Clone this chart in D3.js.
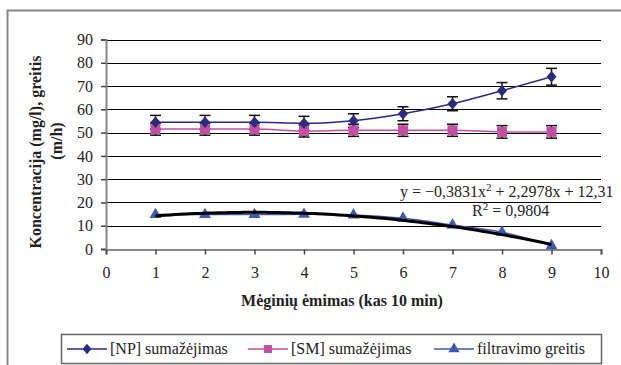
<!DOCTYPE html>
<html>
<head>
<meta charset="utf-8">
<script src="https://cdn.jsdelivr.net/npm/d3@7"></script>
<style>
  body { margin: 0; background: #fff; }
</style>
</head>
<body>
<div id="chart"></div>
<script>
// Mėginių numeriai
var samples = [1, 2, 3, 4, 5, 6, 7, 8, 9];
// [NP] sumažėjimas
var npValues = [54.4, 54.4, 54.4, 54.0, 55.1, 58.1, 62.4, 68.0, 74.0];
var npErrors = [3, 3, 3, 3, 3, 3, 3, 3.5, 3.6];
// [SM] sumažėjimas
var smValues = [51.5, 51.5, 51.5, 50.7, 51.0, 51.0, 51.0, 50.3, 50.3];
var smErrors = [2.6, 2.6, 2.6, 2.6, 2.6, 2.6, 2.6, 2.7, 2.7];
// filtravimo greitis
var flowValues = [14.8, 14.8, 14.8, 14.9, 14.6, 13.2, 10.3, 7.2, 1.4];
// tendencijos linijos koeficientai (a, b, c)
var trendCoef = [-0.3831, 2.2978, 12.31];
var xTicks = [0, 1, 2, 3, 4, 5, 6, 7, 8, 9, 10];
var yTicks = [0, 10, 20, 30, 40, 50, 60, 70, 80, 90];
var legendLabels = ["[NP] sumažėjimas", "[SM] sumažėjimas", "filtravimo greitis"];

var FONT = "'Liberation Serif'";
var width = 621, height = 365;
var margin = { left: 106, right: 20, top: 39.5, bottom: 116 };

var svg = d3.select("#chart").append("svg")
    .attr("width", width)
    .attr("height", height);

// visi tekstai serifiniu šriftu
function txt(sel) {
    return sel.style("font-family", FONT).attr("fill", "#222");
}

// Rėmelis
svg.append("rect")
    .attr("x", 7.5).attr("y", 10.5)
    .attr("width", 640).attr("height", 400)
    .attr("fill", "none")
    .attr("stroke", "#888")
    .attr("stroke-width", 2);

var x = d3.scaleLinear().domain([0, 10]).range([margin.left, width - margin.right]);
var y = d3.scaleLinear().domain([0, 90]).range([height - margin.bottom, margin.top]);

// Tinklelis
svg.append("g").selectAll("line")
    .data(yTicks.filter(d => d > 0))
    .enter().append("line")
    .attr("x1", x(0)).attr("x2", x(10))
    .attr("y1", d => Math.round(y(d)) + 0.5)
    .attr("y2", d => Math.round(y(d)) + 0.5)
    .attr("stroke", "#000")
    .attr("stroke-width", 1.2);

// Ašys
var yAxis = svg.append("g")
    .attr("transform", "translate(" + x(0) + ",0)")
    .call(d3.axisLeft(y).tickValues(yTicks).tickSize(5).tickPadding(8));
var xAxis = svg.append("g")
    .attr("transform", "translate(0," + (Math.round(y(0)) + 0.5) + ")")
    .call(d3.axisBottom(x).tickValues(xTicks).tickSize(5));
xAxis.selectAll(".tick text").attr("y", 28).attr("dy", 0);

[yAxis, xAxis].forEach(function (ax) {
    ax.attr("font-family", null).attr("font-size", null);
    ax.select(".domain").attr("stroke", "#888").attr("stroke-width", 2);
    ax.selectAll(".tick line").attr("stroke", "#444").attr("stroke-width", 1.5);
    txt(ax.selectAll("text")).attr("font-size", 16);
});

// Ašių pavadinimai
txt(svg.append("text"))
    .attr("x", 342).attr("y", 306)
    .attr("text-anchor", "middle")
    .attr("font-weight", "bold")
    .attr("font-size", 16)
    .text("Mėginių ėmimas (kas 10 min)");

txt(svg.append("text"))
    .attr("transform", "translate(41,152) rotate(-90)")
    .attr("text-anchor", "middle")
    .attr("font-weight", "bold")
    .attr("font-size", 16)
    .text("Koncentracija (mg/l), greitis");
txt(svg.append("text"))
    .attr("transform", "translate(62,141) rotate(-90)")
    .attr("text-anchor", "middle")
    .attr("font-weight", "bold")
    .attr("font-size", 16)
    .text("(m/h)");

var navy = "#2A2A7E", pink = "#C24FA3", blue = "#3A5BAE";

// Paklaidų stulpeliai
function errorBars(values, errors) {
    var g = svg.append("g").attr("stroke", "#111").attr("stroke-width", 1.5);
    samples.forEach(function (s, i) {
        var cx = x(s), top = y(values[i] + errors[i]), bot = y(values[i] - errors[i]);
        g.append("line").attr("x1", cx).attr("x2", cx).attr("y1", top).attr("y2", bot);
        g.append("line").attr("x1", cx - 5.5).attr("x2", cx + 5.5).attr("y1", top).attr("y2", top);
        g.append("line").attr("x1", cx - 5.5).attr("x2", cx + 5.5).attr("y1", bot).attr("y2", bot);
    });
}

var diamond = {
    draw: function (ctx, size) {
        var r = Math.sqrt(size / 2);
        ctx.moveTo(0, -r * 1.15); ctx.lineTo(r, 0); ctx.lineTo(0, r * 1.15); ctx.lineTo(-r, 0); ctx.closePath();
    }
};

function series(values, color, symbol, size) {
    var line = d3.line().x((d, i) => x(samples[i])).y(d => y(d)).curve(d3.curveMonotoneX);
    svg.append("path")
        .attr("d", line(values))
        .attr("fill", "none")
        .attr("stroke", color)
        .attr("stroke-width", 1.5);
    svg.append("g").selectAll("path")
        .data(values)
        .enter().append("path")
        .attr("d", d3.symbol().type(symbol).size(size))
        .attr("transform", (d, i) => "translate(" + x(samples[i]) + "," + y(d) + ")")
        .attr("fill", color);
}

errorBars(smValues, smErrors);
errorBars(npValues, npErrors);
series(smValues, pink, d3.symbolSquare, 100);
series(npValues, navy, diamond, 50);
series(flowValues, blue, d3.symbolTriangle, 62);

// Tendencijos linija
var trendX = d3.range(1, 9.001, 0.1);
svg.append("path")
    .attr("d", d3.line()
        .x(d => x(d))
        .y(d => y(trendCoef[0] * d * d + trendCoef[1] * d + trendCoef[2]))(trendX))
    .attr("fill", "none")
    .attr("stroke", "#000")
    .attr("stroke-width", 3);

txt(svg.append("text"))
    .attr("x", 400).attr("y", 197)
    .attr("font-size", 16)
    .html("y = −0,3831x<tspan dy='-6' font-size='11'>2</tspan><tspan dy='6'> + 2,2978x + 12,31</tspan>");
txt(svg.append("text"))
    .attr("x", 472).attr("y", 216)
    .attr("font-size", 16)
    .html("R<tspan dy='-6' font-size='11'>2</tspan><tspan dy='6'> = 0,9804</tspan>");

// Legenda
var legend = svg.append("g");
legend.append("rect")
    .attr("x", 61.5).attr("y", 334.5)
    .attr("width", 540).attr("height", 29)
    .attr("fill", "#fff")
    .attr("stroke", "#666")
    .attr("stroke-width", 1.5);

var legendItems = [
    { label: legendLabels[0], color: navy, symbol: diamond, size: 40, x: 67 },
    { label: legendLabels[1], color: pink, symbol: d3.symbolSquare, size: 64, x: 248 },
    { label: legendLabels[2], color: blue, symbol: d3.symbolTriangle, size: 55, x: 434 }
];
legendItems.forEach(function (it) {
    var g = legend.append("g").attr("transform", "translate(" + it.x + ",349)");
    g.append("line").attr("x1", 0).attr("x2", 40).attr("stroke", it.color).attr("stroke-width", 1.5);
    g.append("path").attr("d", d3.symbol().type(it.symbol).size(it.size)).attr("transform", "translate(20,0)").attr("fill", it.color);
    txt(g.append("text")).attr("x", 43).attr("y", 5).attr("font-size", 16).text(it.label);
});
</script>
</body>
</html>
